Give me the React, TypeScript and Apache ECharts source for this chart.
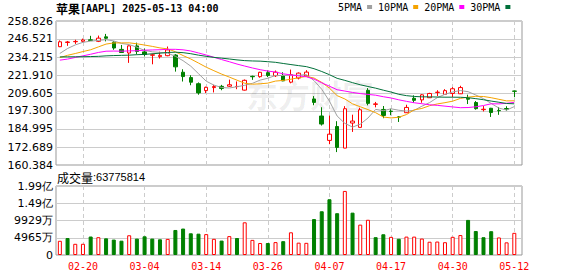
import React, { useEffect, useRef } from 'react';
import * as echarts from 'echarts';

// Trading days shown (2025)
const dates = [
  '02-14','02-18','02-19','02-20','02-21','02-24','02-25','02-26','02-27','02-28',
  '03-03','03-04','03-05','03-06','03-07','03-10','03-11','03-12','03-13','03-14',
  '03-17','03-18','03-19','03-20','03-21','03-24','03-25','03-26','03-27','03-28',
  '03-31','04-01','04-02','04-03','04-04','04-07','04-08','04-09','04-10','04-11',
  '04-14','04-15','04-16','04-17','04-21','04-22','04-23','04-24','04-25','04-28',
  '04-29','04-30','05-01','05-02','05-05','05-06','05-07','05-08','05-09','05-12',
];
const opens = [
  241.25,244.15,244.66,244.94,245.95,244.93,248.00,244.33,239.41,236.95,
  241.79,237.71,235.42,234.44,235.11,235.54,223.81,220.14,215.95,211.25,
  213.31,214.16,214.22,213.99,211.56,221.00,220.77,223.51,221.39,221.67,
  217.01,219.81,221.32,205.54,193.89,177.20,186.70,171.95,189.07,186.10,
  211.44,201.86,198.36,197.20,193.27,196.12,206.00,204.89,206.37,210.00,
  208.69,209.30,209.08,206.09,203.10,198.21,199.17,197.72,199.00,210.97,
];
const highs = [
  245.55,245.18,246.01,246.78,248.69,248.86,250.00,244.98,242.46,242.09,
  244.03,240.07,236.55,237.86,241.37,236.16,225.84,221.75,216.84,213.95,
  215.22,215.15,218.76,217.49,218.84,221.48,224.10,225.02,224.99,223.81,
  225.62,223.68,225.19,207.49,199.88,194.15,190.34,200.61,194.78,199.54,
  212.94,203.51,200.70,198.83,193.80,201.59,208.00,208.83,209.75,211.50,
  212.24,213.58,214.56,208.47,204.10,200.65,199.44,200.05,200.54,211.27,
];
const lows = [
  240.99,241.84,243.16,244.29,245.22,244.42,244.91,239.13,237.06,230.20,
  236.11,234.68,229.23,233.16,234.76,224.22,217.45,214.91,208.42,209.58,
  209.97,211.49,213.75,212.22,211.28,218.58,220.08,220.47,220.56,217.68,
  216.23,218.90,221.02,201.25,187.34,174.62,169.21,171.89,183.00,186.06,
  201.16,199.80,192.37,194.42,189.81,195.97,202.80,202.94,206.20,207.46,
  208.37,206.67,208.90,202.06,198.21,197.02,193.25,194.68,197.54,206.75,
];
const closes = [
  244.60,244.47,244.87,245.83,245.55,247.10,247.04,240.36,237.30,241.84,
  238.03,235.93,235.74,235.33,239.07,227.48,220.84,216.98,209.68,213.49,
  214.00,212.69,215.24,214.10,218.27,220.73,223.75,221.53,223.85,217.90,
  222.13,223.19,223.89,203.19,188.38,181.46,172.42,198.85,190.42,198.15,
  202.52,202.14,194.27,196.98,193.16,199.74,204.60,208.37,209.28,210.14,
  211.21,212.50,213.32,205.35,198.89,198.51,196.25,197.49,198.53,210.79,
];
const volumes = [
  40900000,48800000,32200000,32300000,53200000,51300000,48000000,44400000,41200000,56800000,
  47200000,53800000,47200000,45200000,46300000,72000000,76100000,62500000,61400000,60100000,
  46500000,41500000,54400000,48900000,94100000,43500000,34500000,34500000,37100000,39800000,
  65300000,35500000,35000000,103400000,125900000,160500000,120300000,184400000,121900000,87400000,
  101400000,51300000,59700000,52200000,46700000,52900000,52900000,47300000,38200000,38700000,
  36800000,52300000,57400000,101000000,69000000,51200000,68500000,50500000,36400000,63775814,
];
// Closes of the 29 sessions before the first shown day (for the moving averages)
const priorCloses = [
  243.85,243.36,245.00,242.21,242.70,236.85,234.40,233.28,237.87,228.26,
  229.98,222.64,223.83,223.66,222.78,229.86,238.26,239.36,237.59,236.00,
  228.01,232.80,232.47,233.22,227.63,227.65,232.62,236.87,241.53,
];
const priceTicks = [160.384, 172.689, 184.995, 197.300, 209.605, 221.910, 234.215, 246.521, 258.826];
const volumeMax = 198580000;
const volumeStep = 49645000;
const xTickLabels = ['02-20','03-04','03-14','03-26','04-07','04-17','04-30','05-12'];
const maNames = ['5PMA', '10PMA', '20PMA', '30PMA'];
const maPeriods = [5, 10, 20, 30];
const maColors = ['#a0a0a0', '#f5a300', '#ff00ff', '#00703a'];

const UP = '#ff0000';
const DOWN = '#008000';

function movingAverage(n: number) {
  const all = priorCloses.concat(closes);
  return closes.map((_, i) => {
    const end = priorCloses.length + i;
    let s = 0;
    for (let k = end - n + 1; k <= end; k++) s += all[k];
    return [i, s / n];
  });
}

export default function App() {
  const ref = useRef<HTMLDivElement>(null);
  useEffect(() => {
    if (!ref.current) return;
    const chart = echarts.init(ref.current, null, { renderer: 'svg' });
    const xTickIdx = xTickLabels.map((d) => dates.indexOf(d));
    const candleData = dates.map((_, i) => [i, opens[i], closes[i], lows[i], highs[i]]);
    const volData = volumes.map((v, i) => {
      const prev = i === 0 ? priorCloses[priorCloses.length - 1] : closes[i - 1];
      const up = closes[i] >= prev;
      return {
        value: [i, v],
        itemStyle: up
          ? { color: '#ffffff', borderColor: UP, borderWidth: 1 }
          : { color: DOWN, borderColor: DOWN, borderWidth: 1 },
      };
    });
    const gridLine = { color: '#cccccc', width: 1 };
    const xBase = (grid: number, showLabel: boolean) => ({
      type: 'value',
      gridIndex: grid,
      min: -0.5,
      max: dates.length,
      axisLine: { show: false },
      axisTick: { show: false, customValues: xTickIdx },
      axisLabel: {
        show: showLabel,
        customValues: xTickIdx,
        formatter: (v: number) => dates[Math.round(v)] ?? '',
        color: '#ff0000',
        fontFamily: 'DejaVu Sans Mono',
        fontSize: 10,
        margin: 6,
      },
      splitLine: { show: true, lineStyle: { ...gridLine, type: [4, 3] } },
    });
    const yLabel = {
      color: '#000',
      fontFamily: 'DejaVu Sans',
      fontSize: 11,
      margin: 3,
    };
    const option: any = {
      animation: false,
      backgroundColor: '#ffffff',
      title: {
        left: 56,
        top: 2,
        padding: 0,
        text: '{a|苹果}{b|[AAPL] 2025-05-13 04:00}',
        textStyle: {
          rich: {
            a: { fontFamily: 'Noto Sans CJK SC', fontSize: 12, color: '#000' },
            b: { fontFamily: 'DejaVu Sans Mono', fontSize: 10, color: '#000' },
          },
        },
      },
      legend: {
        left: 338,
        top: 2,
        padding: 0,
        align: 'right',
        icon: 'rect',
        itemWidth: 5,
        itemHeight: 4,
        itemGap: 6,
        selectedMode: false,
        data: maNames,
        textStyle: { fontFamily: 'DejaVu Sans Mono', fontSize: 10, color: '#000' },
      },
      graphic: [
        {
          type: 'text',
          left: 246,
          top: 78,
          z: 1,
          silent: true,
          style: {
            text: '东方财富',
            font: 'bold 32px "Noto Sans CJK SC"',
            fill: 'rgba(0,0,0,0.07)',
          },
        },
        {
          type: 'text',
          left: 57,
          top: 171,
          style: {
            text: `{a|成交量}{b|:${volumes[volumes.length - 1]}}`,
            rich: {
              a: { fontFamily: 'Noto Sans CJK SC', fontSize: 12, fill: '#000' },
              b: { fontFamily: 'Liberation Sans', fontSize: 11, fill: '#000' },
            },
          },
        },
      ],
      grid: [
        { left: 56, right: 56, top: 21, height: 144, show: true, borderColor: '#999', borderWidth: 1 },
        { left: 56, right: 56, top: 186, height: 69, show: true, borderColor: '#999', borderWidth: 1 },
      ],
      xAxis: [xBase(0, false), xBase(1, true)],
      yAxis: [
        {
          type: 'value',
          gridIndex: 0,
          min: priceTicks[0],
          max: priceTicks[priceTicks.length - 1],
          axisLine: { show: false },
          axisTick: { show: false, customValues: priceTicks },
          axisLabel: { ...yLabel, customValues: priceTicks, formatter: (v: number) => v.toFixed(3) },
          splitLine: { show: true, lineStyle: gridLine },
        },
        {
          type: 'value',
          gridIndex: 1,
          min: 0,
          max: volumeMax,
          interval: volumeStep,
          axisLine: { show: false },
          axisTick: { show: false },
          axisLabel: {
            ...yLabel,
            formatter: (v: number) =>
              v === 0 ? '0' : v >= 1e8 ? (v / 1e8).toFixed(2) + '亿' : Math.round(v / 1e4) + '万',
          },
          splitLine: { show: true, lineStyle: gridLine },
        },
      ],
      series: [
        {
          type: 'candlestick',
          xAxisIndex: 0,
          yAxisIndex: 0,
          barWidth: 4,
          encode: { x: 0, y: [1, 2, 3, 4] },
          data: candleData,
          itemStyle: {
            color: '#ffffff',
            color0: DOWN,
            borderColor: UP,
            borderColor0: DOWN,
            borderWidth: 1,
          },
        },
        ...maNames.map((name, k) => ({
          type: 'line',
          name,
          xAxisIndex: 0,
          yAxisIndex: 0,
          data: movingAverage(maPeriods[k]),
          symbol: 'none',
          showSymbol: false,
          lineStyle: { width: 1, color: maColors[k] },
          itemStyle: { color: maColors[k] },
          z: 3,
        })),
        {
          type: 'bar',
          xAxisIndex: 1,
          yAxisIndex: 1,
          barWidth: 4,
          data: volData,
        },
      ],
    };
    chart.setOption(option);
    return () => chart.dispose();
  }, []);
  return (
    <div
      ref={ref}
      style={{ position: 'fixed', left: 0, top: 0, width: 578, height: 276, background: '#fff' }}
    />
  );
}
